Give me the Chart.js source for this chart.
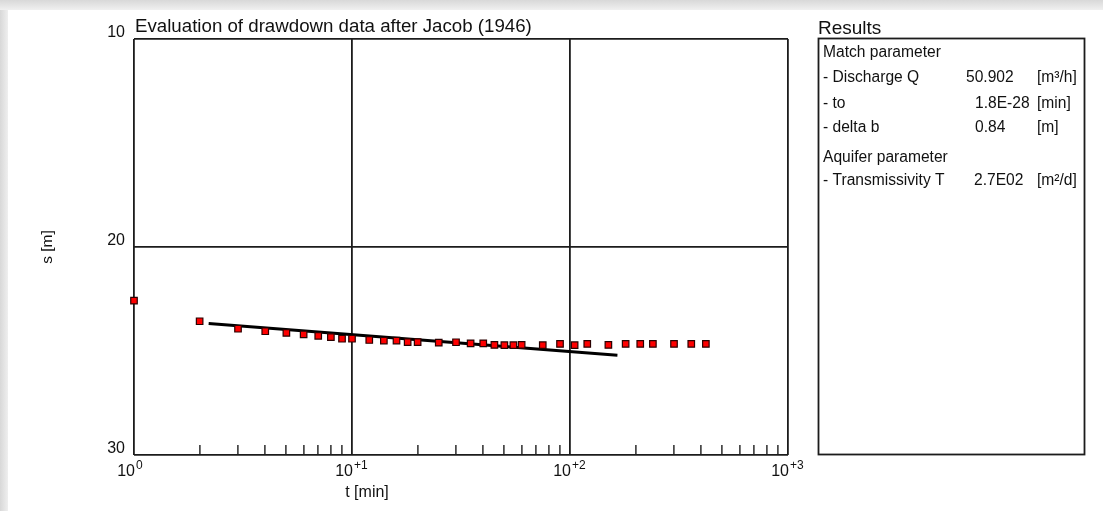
<!DOCTYPE html>
<html>
<head>
<meta charset="utf-8">
<title>Jacob drawdown evaluation</title>
<script src="https://cdn.jsdelivr.net/npm/chart.js@4.4.1/dist/chart.umd.min.js"></script>
<style>
  html, body { margin: 0; padding: 0; }
  body {
    width: 1103px; height: 511px; overflow: hidden;
    background:
      linear-gradient(to bottom, #d8d8d8 0px, #f0f0f0 10px, rgba(255,255,255,0) 10px),
      linear-gradient(to right, #d8d8d8 0px, #efefef 8px, #ffffff 8px);
  }
  #chart { position: absolute; left: 0; top: 0; }
</style>
</head>
<body>
<canvas id="chart" width="1103" height="511"></canvas>
<script>
// measured drawdown
var times = [1, 2, 3, 4, 5, 6, 7, 8, 9, 10, 12, 14, 16, 18, 20, 25, 30, 35, 40, 45,
             50, 55, 60, 75, 90, 105, 120, 150, 180, 210, 240, 300, 360, 420];
var drawdown = [22.58, 23.57, 23.93, 24.05, 24.13, 24.20, 24.27, 24.33, 24.41, 24.41,
                24.47, 24.50, 24.50, 24.57, 24.57, 24.60, 24.58, 24.63, 24.63, 24.71,
                24.72, 24.72, 24.71, 24.72, 24.66, 24.72, 24.66, 24.71, 24.66, 24.66,
                24.66, 24.66, 24.66, 24.66];

// Jacob straight line (end points)
var fitTimes = [2.2, 165];
var fitDrawdown = [23.68, 25.2];

// axis ticks
var xMajor = [1, 10, 100, 1000];
var xExponents = ['0', '+1', '+2', '+3'];
var yTicks = [10, 20, 30];

// results box
var resultRows = ['Match parameter', '- Discharge Q', '- to', '- delta b', 'Aquifer parameter', '- Transmissivity T'];
var resultValues = ['', '50.902', '1.8E-28', '0.84', '', '2.7E02'];
var resultUnits = ['', '[m\u00b3/h]', '[min]', '[m]', '', '[m\u00b2/d]'];

var FONT = '"Liberation Sans", Arial, sans-serif';
var LINE = '#1c1c1c';

function pts(xs, ys) {
  return xs.map(function(x, i) { return { x: x, y: ys[i] }; });
}

var xTickValues = [];
for (var d = 1; d < 1000; d *= 10) {
  for (var k = 1; k < 10; k++) xTickValues.push(k * d);
}
xTickValues.push(1000);

var textPlugin = {
  id: 'texts',
  afterDraw: function(chart) {
    var ctx = chart.ctx;
    var xs = chart.scales.x;
    ctx.save();
    ctx.fillStyle = '#111';
    ctx.textBaseline = 'alphabetic';

    // title
    ctx.font = '18.7px ' + FONT;
    ctx.textAlign = 'left';
    ctx.fillText('Evaluation of drawdown data after Jacob (1946)', 135, 32);

    // x tick labels 10^n
    xMajor.forEach(function(v, i) {
      var px = xs.getPixelForValue(v);
      ctx.font = '16px ' + FONT;
      ctx.textAlign = 'right';
      ctx.fillText('10', px + 1, 476);
      ctx.font = '12px ' + FONT;
      ctx.textAlign = 'left';
      ctx.fillText(xExponents[i], px + 2, 469);
    });

    // x axis title
    ctx.font = '16px ' + FONT;
    ctx.textAlign = 'center';
    ctx.fillText('t [min]', 367, 497);

    // results box
    ctx.textAlign = 'left';
    ctx.font = '19px ' + FONT;
    ctx.fillText('Results', 818, 34);
    ctx.strokeStyle = LINE;
    ctx.lineWidth = 1.8;
    ctx.strokeRect(818.5, 38.5, 266, 416);

    var rowY = [57, 82, 108, 132, 162, 185];
    var valX = [0, 966, 975, 975, 0, 974];
    ctx.font = '15.6px ' + FONT;
    resultRows.forEach(function(label, i) {
      ctx.fillText(label, 823, rowY[i]);
      if (resultValues[i]) ctx.fillText(resultValues[i], valX[i], rowY[i]);
      if (resultUnits[i]) ctx.fillText(resultUnits[i], 1037, rowY[i]);
    });
    ctx.restore();
  }
};

var chart = new Chart(document.getElementById('chart').getContext('2d'), {
  type: 'scatter',
  data: {
    datasets: [
      {
        label: 'Jacob line',
        data: pts(fitTimes, fitDrawdown),
        showLine: true,
        borderColor: '#000',
        borderWidth: 3,
        pointRadius: 0,
        order: 2
      },
      {
        label: 'Drawdown',
        data: pts(times, drawdown),
        clip: false,
        pointStyle: 'rect',
        pointRadius: 4.6,
        backgroundColor: '#ff0000',
        borderColor: '#2a0000',
        borderWidth: 1.2,
        order: 1
      }
    ]
  },
  options: {
    responsive: false,
    animation: false,
    events: [],
    layout: { padding: { left: 0, top: 39, right: 315, bottom: 0 } },
    plugins: { legend: { display: false }, tooltip: { enabled: false } },
    scales: {
      x: {
        type: 'logarithmic',
        min: 1,
        max: 1000,
        afterBuildTicks: function(scale) {
          scale.ticks = xTickValues.map(function(v) { return { value: v }; });
        },
        afterFit: function(scale) { scale.height = 56; },
        ticks: { display: false },
        border: { display: false },
        grid: {
          drawTicks: true,
          tickLength: -10,
          tickWidth: 1.4,
          lineWidth: 1.8,
          color: function(c) {
            return xMajor.indexOf(c.tick.value) >= 0 ? LINE : 'rgba(0,0,0,0)';
          },
          tickColor: function(c) {
            return xMajor.indexOf(c.tick.value) >= 0 ? 'rgba(0,0,0,0)' : LINE;
          }
        }
      },
      y: {
        type: 'linear',
        min: 10,
        max: 30,
        reverse: true,
        afterBuildTicks: function(scale) {
          scale.ticks = yTicks.map(function(v) { return { value: v }; });
        },
        afterFit: function(scale) { scale.width = 134; },
        ticks: {
          padding: 9,
          labelOffset: -6,
          color: '#111',
          font: { family: FONT, size: 16 }
        },
        border: { display: false },
        grid: { drawTicks: false, lineWidth: 1.8, color: LINE },
        title: {
          display: true,
          text: 's [m]',
          color: '#111',
          font: { family: FONT, size: 15.5 },
          padding: { top: 38, bottom: 0 }
        }
      }
    }
  },
  plugins: [textPlugin]
});
</script>
</body>
</html>
